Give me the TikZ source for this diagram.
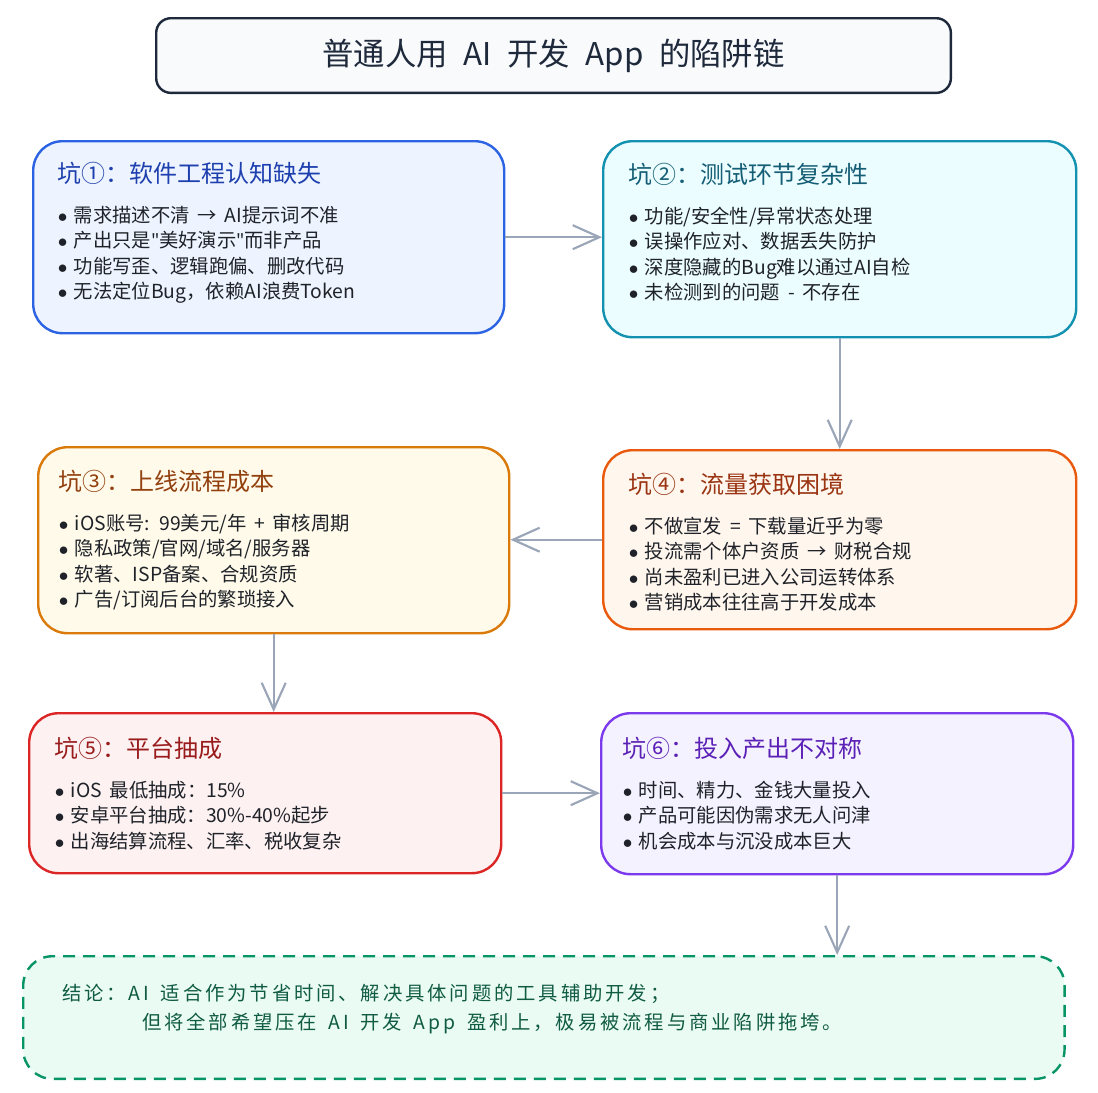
\documentclass[tikz,border=0pt]{standalone}
\usepackage{fontspec}
\setmainfont{Noto Sans CJK SC}
\newfontfamily\quotefont{Noto Sans}
\newfontfamily\concfont[LetterSpace=15]{Noto Sans CJK SC}
\usetikzlibrary{calc,arrows.meta}

\newcommand{\widesp}[1]{\spaceskip=#1em\relax}

\definecolor{line1}{HTML}{2B63E3}
\definecolor{fill1}{HTML}{EEF4FF}
\definecolor{head1}{HTML}{1E40AF}
\definecolor{line2}{HTML}{1391B0}
\definecolor{fill2}{HTML}{EBFDFF}
\definecolor{head2}{HTML}{155E75}
\definecolor{line3}{HTML}{D97A0B}
\definecolor{fill3}{HTML}{FFFAEA}
\definecolor{head3}{HTML}{92400E}
\definecolor{line4}{HTML}{EA5A0C}
\definecolor{fill4}{HTML}{FFF6EE}
\definecolor{head4}{HTML}{9A3412}
\definecolor{line5}{HTML}{DC2626}
\definecolor{fill5}{HTML}{FDF1F1}
\definecolor{head5}{HTML}{991B1B}
\definecolor{line6}{HTML}{7C3AED}
\definecolor{fill6}{HTML}{F4F2FF}
\definecolor{head6}{HTML}{5B21B6}
\definecolor{concline}{HTML}{079467}
\definecolor{concfill}{HTML}{EAFBF3}
\definecolor{conctext}{HTML}{0F5B43}
\definecolor{titleline}{HTML}{1E293B}
\definecolor{titlefill}{HTML}{F8FAFC}
\definecolor{textdark}{HTML}{1F2329}
\definecolor{flowgray}{HTML}{9AA6B8}

\begin{document}
\begin{tikzpicture}[x=0.75pt,y=-0.75pt,
	box/.style={draw, line width=1.8pt, rounded corners=22pt, anchor=north west, inner sep=0pt},
	txt/.style={anchor=north west, align=left, inner sep=0pt, text=textdark,
		font=\fontsize{14.5}{19}\selectfont\widesp{0.4}},
	flow/.style={draw=flowgray, line width=1.6pt, -{Straight Barb[length=20pt,width=18pt]}}]

	% ---- parameters

	\def\headfont{\fontsize{18}{22}\selectfont}
	\def\dotitem{\hspace*{0.5pt}\makebox[12pt][l]{$\bullet$}}
	\def\qt{{\quotefont "}}

	\useasboundingbox (0,0) rectangle (1098,1092);

	% ---- title

	\node[box, draw=titleline, fill=titlefill, rounded corners=11pt, minimum width=596pt,
		minimum height=56pt, text=titleline,
		font=\fontsize{23.5}{28}\selectfont\widesp{0.5}]
		(head) at (155,17) {普通人用 AI 开发 App 的陷阱链};

	% ---- boxes

	\foreach \n/\x/\y/\w/\h in {1/32/140/471/192, 2/602/140/473/196, 3/37/446/471/186,
		4/602/449/473/179, 5/28/712/472/160, 6/600/712/472/161} {
		\node[box, draw=line\n, fill=fill\n, minimum width=\w*0.75pt, minimum height=\h*0.75pt]
			(p\n) at (\x,\y) {};
	}

	\node[box, draw=concline, fill=concfill, dash pattern=on 9pt off 6pt, minimum width=781pt,
		minimum height=92pt] (concl) at (22,955) {};

	% ---- box texts

	\node[txt] (p1t) at ($(p1.north west)+(25,22)$) {{\headfont\color{head1}坑①：软件工程认知缺失}\\[11pt]
		\dotitem 需求描述不清 → AI提示词不准\\
		\dotitem 产出只是\qt 美好演示\qt 而非产品\\
		\dotitem 功能写歪、逻辑跑偏、删改代码\\
		\dotitem 无法定位Bug，依赖AI浪费Token};

	\node[txt] (p2t) at ($(p2.north west)+(26,23)$) {{\headfont\color{head2}坑②：测试环节复杂性}\\[11pt]
		\dotitem 功能/安全性/异常状态处理\\
		\dotitem 误操作应对、数据丢失防护\\
		\dotitem 深度隐藏的Bug难以通过AI自检\\
		\dotitem 未检测到的问题 - 不存在};

	\node[txt] (p3t) at ($(p3.north west)+(21,24)$) {{\headfont\color{head3}坑③：上线流程成本}\\[11pt]
		\dotitem iOS账号: 99美元/年 + 审核周期\\
		\dotitem 隐私政策/官网/域名/服务器\\
		\dotitem 软著、ISP备案、合规资质\\
		\dotitem 广告/订阅后台的繁琐接入};

	\node[txt] (p4t) at ($(p4.north west)+(26,24)$) {{\headfont\color{head4}坑④：流量获取困境}\\[11pt]
		\dotitem 不做宣发 = 下载量近乎为零\\
		\dotitem 投流需个体户资质 → 财税合规\\
		\dotitem 尚未盈利已进入公司运转体系\\
		\dotitem 营销成本往往高于开发成本};

	\node[txt] (p5t) at ($(p5.north west)+(26,25)$) {{\headfont\color{head5}坑⑤：平台抽成}\\[11pt]
		\dotitem iOS 最低抽成：15\%\\
		\dotitem 安卓平台抽成：30\%-40\%起步\\
		\dotitem 出海结算流程、汇率、税收复杂};

	\node[txt] (p6t) at ($(p6.north west)+(22,25)$) {{\headfont\color{head6}坑⑥：投入产出不对称}\\[11pt]
		\dotitem 时间、精力、金钱大量投入\\
		\dotitem 产品可能因伪需求无人问津\\
		\dotitem 机会成本与沉没成本巨大};

	\node[txt, text=conctext, font=\concfont\fontsize{14.5}{21.75}\selectfont\widesp{0.6}]
		(conclt) at ($(concl.north west)+(40,29)$)
		{结论：AI 适合作为节省时间、解决具体问题的工具辅助开发；\\
		\hspace*{60pt}但将全部希望压在 AI 开发 App 盈利上，极易被流程与商业陷阱拖垮。};

	% ---- connectors

	\draw[flow] (p1.east) -- (p1.east -| p2.west);
	\draw[flow] (p2.south) -- (p2.south |- p4.north);
	\draw[flow] (p4.west) -- (p4.west -| p3.east);
	\draw[flow] (p3.south) -- (p3.south |- p5.north);
	\draw[flow] (p5.east) -- (p5.east -| p6.west);
	\draw[flow] (p6.south) -- (p6.south |- concl.north);

\end{tikzpicture}
\end{document}
